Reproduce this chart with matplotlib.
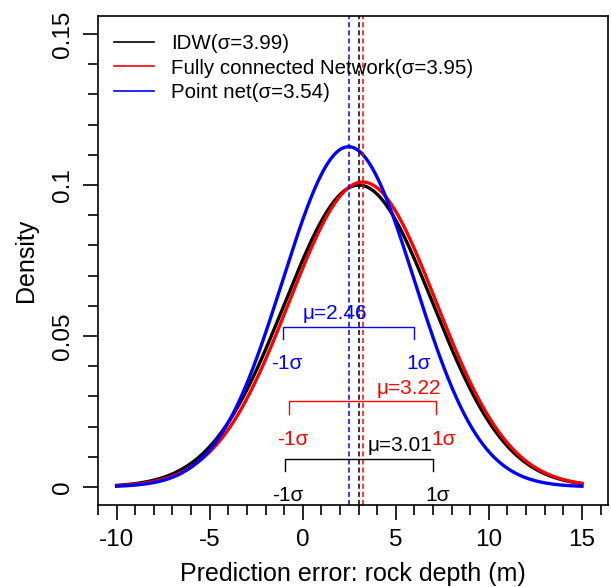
import numpy as np
import matplotlib
matplotlib.use("Agg")
import matplotlib.pyplot as plt
from matplotlib.ticker import MultipleLocator, FixedLocator

plt.rcParams['font.family'] = ['Liberation Sans', 'DejaVu Sans']

# ---- data ----
names = ["IDW", "Fully connected Network", "Point net"]
colors = ["black", "red", "blue"]
mus = [3.01, 3.22, 2.46]
sigmas = [3.99, 3.95, 3.54]
x_range = [-10, 15]
x_ticks = [-10, -5, 0, 5, 10, 15]
y_ticks = [0, 0.05, 0.1, 0.15]
y_tick_labels = ["0", "0.05", "0.1", "0.15"]
# bracket heights (density units) for the ±1σ markers, per series
bracket_y = [0.0094, 0.0283, 0.0531]

fig = plt.figure(figsize=(6.11, 5.87), dpi=100)
ax = fig.add_axes([98/611, 82/587, 510/611, 489/587])

x = np.linspace(x_range[0], x_range[1], 600)
for name, c, m, s in zip(names, colors, mus, sigmas):
    dens = np.exp(-0.5 * ((x - m) / s) ** 2) / (s * np.sqrt(2 * np.pi))
    ax.plot(x, dens, color=c, lw=2.4, label=f"{name}(\u03c3={s:.2f})")

ax.set_xlim(-11, 16.4)
ax.set_ylim(-0.006, 0.156)

# vertical dashed mean lines
for c, m in zip(colors, mus):
    ax.axvline(m, color=c, lw=1.1, ls=(0, (3.3, 2.0)))

# brackets and labels
drop = 0.004
label_dy = [-0.0124, -0.0125, -0.0122]
hi_dx = [0.25, 0.4, 0.25]
mu_text_x = [3.5, 3.97, 0.0]
for i, (c, m, s, by) in enumerate(zip(colors, mus, sigmas, bracket_y)):
    lo, hi = m - s, m + s
    ax.plot([lo, lo, hi, hi], [by - drop, by, by, by - drop], color=c, lw=1.0)
    ax.text(lo + 0.2, by + label_dy[i], "-1\u03c3", color=c, fontsize=15,
            ha="center", va="center")
    ax.text(hi + hi_dx[i], by + label_dy[i], "1\u03c3", color=c, fontsize=15,
            ha="center", va="center")
    ax.text(mu_text_x[i], by + 0.0043, f"\u03bc={m:.2f}", color=c, fontsize=15,
            ha="left", va="center")

# axes styling
ax.xaxis.set_major_locator(FixedLocator(x_ticks))
ax.xaxis.set_minor_locator(MultipleLocator(1))
ax.yaxis.set_major_locator(FixedLocator(y_ticks))
ax.set_yticklabels(y_tick_labels, rotation=90, va="center")
ax.yaxis.set_minor_locator(FixedLocator(np.arange(0, 0.1501, 0.01)))
ax.set_xticklabels([str(t) for t in x_ticks])
ax.tick_params(which="major", length=11, width=1.2, labelsize=17.5, pad=6)
ax.tick_params(which="minor", length=7, width=1.2)
for sp in ax.spines.values():
    sp.set_linewidth(1.2)

ax.set_xlabel("Prediction error: rock depth (m)", fontsize=18, labelpad=8)
ax.set_ylabel("Density", fontsize=18, labelpad=10)

leg = ax.legend(loc="upper left", bbox_to_anchor=(0.0, 0.997), frameon=False,
                fontsize=14.8, handlelength=1.9, handletextpad=0.85,
                labelspacing=0.28, borderaxespad=0.4)
for h in leg.get_lines():
    h.set_linewidth(1.2)

fig.savefig("out.png", dpi=100)
